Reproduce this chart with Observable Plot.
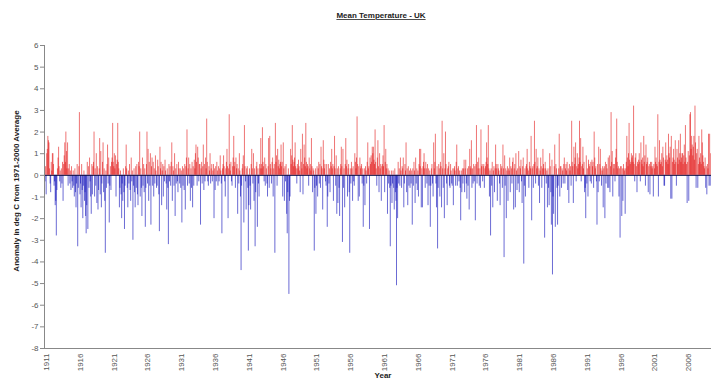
<!DOCTYPE html>
<html><head><meta charset="utf-8">
<script src="https://cdn.jsdelivr.net/npm/d3@7"></script>
<script src="https://cdn.jsdelivr.net/npm/@observablehq/plot@0.6"></script>
<style>body{margin:0;background:#fff;}</style>
</head><body><div id="chart"></div>
<script>
// Monthly anomalies (deg C from 1971-2000 average), starting January 1911
const startYear = 1911;
const anom1911 = [
 0.5,-0.3,0.4,-0.9,1.0,1.2,1.8,1.6,1.5,0.3,-0.4,-0.8,
 0.6,0.2,1.0,1.0,0.5,-0.5,-0.3,-1.4,-1.2,-2.8,-0.7,0.3,
 0.8,1.3,0.4,-0.3,0.2,-0.6,0.3,-0.4,0.6,-1.2,0.5,0.9,
 1.5,0.6,2.0,1.1,0.3,1.5,-0.5,0.3,0.5,-0.4,0.2,-0.7,
 0.4,-0.3,-0.6,0.2,-0.5,-1.0,0.3,-0.8,-1.5,-0.4,0.5,-3.3,
 -0.6,0.4,2.9,-0.9,-0.4,-1.5,0.5,-0.7,-2.0,-0.5,0.2,-1.2,
 -0.8,-1.9,-2.7,-1.4,0.6,-2.5,0.4,-0.6,0.8,-0.3,-1.0,-1.8,
 0.5,-0.9,0.4,0.6,2.0,-1.0,0.3,-0.5,1.0,-1.3,0.4,-1.6,
 -0.7,0.3,1.7,-0.9,1.1,-1.5,-0.4,0.6,1.5,-0.8,0.3,-1.2,
 -3.6,0.2,-0.6,0.5,1.4,-0.4,0.8,-2.2,-0.5,0.4,-0.7,0.6];
const anom1921 = [
 0.8,2.4,0.6,0.4,1.0,0.3,0.9,-1.0,0.5,0.7,2.4,0.6,
 0.3,-1.5,-0.6,0.2,-0.9,-2.0,-0.4,-1.2,0.3,-0.8,-2.5,-0.5,
 0.4,1.4,0.3,-0.6,-1.5,0.2,-0.4,0.5,-0.7,-1.2,0.8,-0.3,
 0.2,-3.0,-0.5,0.3,-0.8,-1.5,0.4,-0.6,0.5,-0.9,-1.4,0.6,
 0.4,2.0,-1.0,0.3,-0.6,-1.9,0.8,-0.5,0.5,-0.8,0.3,-2.4,
 -0.6,0.5,2.0,-0.4,1.2,-1.2,0.6,-0.5,1.0,-2.3,0.4,0.8,
 -0.5,0.6,-1.0,0.3,-0.4,0.9,0.2,-0.6,-0.5,0.7,0.4,-0.9,
 -2.6,1.3,0.3,0.6,-1.4,0.2,0.5,-1.0,0.4,-0.3,0.7,0.2,
 -0.4,-1.6,0.3,-0.6,-3.2,0.5,-0.3,0.4,-0.5,0.6,1.5,-1.2,
 0.4,0.2,-0.5,1.0,-1.9,0.3,-0.4,0.5,-0.3,-0.8,0.6,0.3];
const anom1931 = [
 -0.4,0.3,-0.6,0.2,-2.2,0.4,-0.5,0.3,-0.7,0.5,-1.6,0.4,
 0.8,2.1,-0.5,0.3,0.8,-0.4,0.5,-1.2,0.3,-0.6,0.6,-1.5,
 0.4,-0.5,0.7,0.3,1.0,1.4,0.6,-0.5,1.3,0.8,-0.3,0.5,
 0.5,-2.3,0.3,0.6,-0.4,0.4,1.4,-0.7,0.5,-0.3,0.8,0.3,
 2.6,0.6,-0.3,-0.5,0.4,0.2,1.0,-0.4,0.3,0.5,-0.3,0.2,
 0.5,-2.0,0.3,-0.7,0.4,-0.3,0.6,0.2,-0.5,0.4,-0.3,0.3,
 0.9,0.2,-0.4,-2.7,0.3,0.5,0.9,0.4,-0.3,-1.0,0.3,0.6,
 1.2,0.4,-2.0,0.3,2.8,0.5,0.2,0.6,-0.3,-0.5,0.4,0.8,
 1.8,0.4,0.6,-0.6,0.8,0.3,0.5,-1.8,0.3,-0.4,1.0,0.2,
 -1.0,-4.4,-0.5,0.3,0.5,0.9,-2.2,2.3,0.4,-0.3,-1.6,0.3];
const anom1941 = [
 0.4,-0.6,-3.5,-1.4,0.3,-0.5,-1.6,0.5,1.2,0.3,-0.4,1.0,
 -1.2,0.3,-3.3,-0.8,0.4,0.6,-2.4,0.3,-0.4,-1.0,0.5,0.3,
 1.7,0.5,0.3,2.2,0.6,0.4,-0.3,0.8,-0.5,0.5,0.3,-0.4,
 -1.0,0.4,1.7,-0.6,1.8,0.5,0.3,-0.4,0.6,0.8,-1.0,0.3,
 0.5,-3.6,2.4,0.6,0.9,-0.5,1.2,0.4,0.7,0.3,0.5,0.6,
 1.4,0.4,0.6,-1.0,1.5,0.3,-1.2,0.4,-0.3,0.5,-1.8,-2.7,
 -0.8,0.3,-5.5,-1.2,-1.0,1.2,0.5,0.9,2.3,0.7,0.4,0.6,
 0.8,1.5,0.4,0.3,-0.4,0.5,0.3,0.7,0.4,0.2,-0.8,1.2,
 0.6,0.3,1.9,-0.9,0.5,1.4,0.8,0.4,2.4,0.6,0.3,0.5,
 0.4,-0.5,0.8,0.3,0.5,0.2,1.7,0.4,-0.8,0.3,0.2,-3.5];
const anom1951 = [
 -0.6,0.3,-1.8,-0.5,0.4,-1.0,0.3,0.6,-0.4,0.5,-0.6,1.3,
 0.4,0.3,-1.6,1.6,0.7,0.3,0.5,-0.3,-0.5,0.5,-2.4,-1.0,
 0.5,-0.4,0.3,-0.8,0.6,0.4,1.2,0.3,0.5,-1.2,0.4,1.8,
 0.3,-0.5,0.9,-1.8,0.3,-1.3,0.4,-0.6,-1.9,0.3,0.5,1.3,
 0.4,-3.1,1.2,-0.6,0.3,-1.5,0.5,1.7,0.4,0.7,-1.0,0.3,
 0.5,-0.8,-3.6,0.3,-0.4,0.6,0.3,-1.2,0.4,-0.3,-0.5,1.0,
 0.6,0.3,0.8,2.7,0.5,-1.2,0.4,-1.0,0.8,0.3,0.4,0.5,
 -0.4,0.3,-2.4,-0.5,0.3,-1.4,0.4,0.2,-0.4,0.6,1.5,0.3,
 0.4,-2.5,0.8,0.5,0.9,0.6,1.3,1.0,1.3,0.7,0.5,2.1,
 0.6,0.3,-0.5,0.8,1.6,0.4,-0.8,1.0,0.3,0.5,-1.2,0.4];
const anom1961 = [
 0.5,0.9,0.4,2.3,-0.8,0.6,1.2,0.3,0.5,-1.8,0.3,-0.4,
 0.2,-0.6,-3.3,-0.5,0.2,-1.3,-0.4,0.2,-0.6,-1.6,0.3,-0.8,
 -1.2,-5.1,-0.6,-2.0,0.6,-0.4,0.3,-0.5,0.8,0.2,-0.6,0.4,
 0.3,0.8,-1.5,-0.4,0.5,0.2,1.5,-0.8,0.3,-1.4,0.4,-0.5,
 0.2,-0.6,0.3,-0.4,0.2,-2.3,0.3,-0.5,0.6,0.2,-1.3,0.8,
 -0.4,0.3,-0.7,0.2,-1.0,0.5,1.2,0.4,1.2,-1.5,0.3,-1.5,
 0.4,0.6,1.0,0.3,-0.6,0.6,0.3,-0.4,0.5,-1.4,0.3,-0.5,
 0.2,-2.4,-0.5,0.3,0.5,-0.4,-1.0,1.5,0.3,0.6,1.9,-0.4,
 -1.5,0.4,-3.4,-0.6,0.5,0.3,-1.0,0.6,0.4,-1.5,2.5,0.3,
 -0.6,1.0,-2.0,0.3,2.0,0.5,-0.4,-1.4,0.3,0.4,0.6,-0.5];
const anom1971 = [
 -0.6,0.5,0.2,-0.4,-0.5,0.3,-1.4,0.3,0.4,0.2,-0.5,0.6,
 1.4,-0.5,0.3,0.4,-0.3,0.2,-0.6,-2.1,0.2,-0.8,0.3,-0.4,
 0.3,0.7,-0.8,0.3,0.7,-0.4,-1.1,0.3,-0.5,0.4,-1.6,1.2,
 0.4,0.3,1.6,-0.6,0.3,-0.4,0.5,-0.3,0.4,-2.1,0.5,2.3,
 -0.4,0.6,0.3,0.8,-0.5,0.3,-0.6,2.1,0.4,0.5,-0.3,0.4,
 0.5,-0.6,0.3,0.4,0.6,1.5,0.8,0.5,2.3,0.3,-1.0,0.2,
 -2.8,0.3,-0.5,0.6,-1.5,0.2,0.4,-0.8,0.3,1.4,0.5,0.3,
 -1.2,0.5,0.3,0.2,-0.4,-1.4,0.5,0.3,0.4,-0.6,1.4,0.3,
 -3.8,0.9,-0.5,0.3,-2.0,0.2,0.4,-1.2,0.3,0.2,0.8,-0.8,
 0.4,0.3,-0.4,0.6,0.8,-1.6,0.3,0.5,-1.5,1.0,0.2,-0.7];
const anom1981 = [
 0.3,-0.4,1.1,-0.8,0.4,0.3,0.7,-0.3,-1.3,0.4,0.8,-4.1,
 -0.5,0.3,-1.0,0.4,0.5,1.2,0.3,0.2,-0.6,0.6,0.4,0.3,
 1.8,-2.1,0.3,0.4,-0.6,0.5,2.5,0.6,-0.4,1.2,0.3,0.4,
 0.8,-0.5,0.3,-1.3,0.2,0.8,0.4,-0.6,0.3,1.2,0.5,0.3,
 -2.9,0.6,0.3,-0.4,0.2,-1.5,0.3,-0.6,-1.4,1.0,0.4,-0.8,
 -2.3,0.7,-4.6,-1.0,-1.8,0.4,1.4,-2.4,0.5,0.3,-0.6,-2.3,
 -0.5,0.3,1.9,-1.0,0.4,0.4,-0.6,0.3,0.2,-0.4,0.5,0.8,
 -0.4,0.3,0.5,0.2,0.6,-0.7,0.3,-1.3,0.5,0.2,0.4,-0.5,
 2.5,0.6,0.4,-1.3,1.3,0.5,0.8,1.5,-0.3,0.4,1.0,0.3,
 0.5,0.8,2.5,0.6,1.7,-0.3,0.4,0.5,1.3,0.3,0.6,-0.8];
const anom1991 = [
 -0.6,-2.0,0.9,-0.4,0.3,-1.0,0.7,0.5,0.4,-0.3,0.6,-0.4,
 0.7,0.4,0.6,-0.6,2.0,0.8,0.3,0.4,-0.3,-2.3,0.5,-0.8,
 1.3,-0.3,0.5,1.2,0.3,-0.5,0.2,0.4,-1.5,0.3,0.4,-2.0,
 0.6,-0.4,0.5,0.3,-0.6,0.8,-0.6,0.9,-0.8,0.4,2.9,0.6,
 1.1,-1.0,0.5,0.3,0.5,-0.3,0.8,1.2,2.6,0.6,0.3,0.4,
 -1.0,0.3,-2.9,0.4,0.4,-1.9,0.3,-1.2,0.5,0.3,0.2,-1.8,
 0.3,0.6,1.8,0.8,0.4,1.0,2.4,0.7,0.5,0.6,1.0,0.8,
 0.9,0.6,3.2,0.5,-0.3,0.8,1.0,0.4,-0.8,0.6,0.5,0.7,
 1.0,0.6,-0.3,1.5,0.7,0.5,0.8,0.4,1.8,0.6,0.9,-0.5,
 1.4,0.5,0.6,0.8,-0.8,0.4,0.5,-0.9,0.6,0.4,0.6,0.3];
const anom2001 = [
 0.4,-1.0,0.5,0.3,1.3,0.6,0.8,0.5,0.4,2.8,-1.0,0.6,
 1.6,0.7,0.5,0.6,1.0,0.4,1.3,0.8,-0.5,-0.5,0.7,1.5,
 0.6,0.9,0.7,0.5,1.9,1.0,0.8,1.3,-1.1,1.8,-1.1,0.6,
 0.8,1.2,0.7,0.5,1.6,0.6,-0.5,1.2,0.8,0.5,1.6,0.7,
 1.0,1.9,0.6,0.8,1.0,1.0,0.5,0.9,1.4,0.6,2.3,0.8,
 0.5,-1.3,0.6,1.1,-1.2,0.9,2.8,2.9,1.2,1.8,1.4,0.9,
 1.3,1.8,0.7,3.2,1.5,-0.6,1.0,1.2,-0.6,0.5,1.8,0.8,
 0.6,1.0,0.5,2.1,1.5,0.9,0.6,0.4,0.3,0.8,-0.6,0.4,
 -0.9,0.5,0.3,1.9,-0.5,1.9,-0.5,1.0];
const tickYears = [1911,1916,1921,1926,1931,1936,1941,1946,1951,1956,1961,1966,1971,1976,1981,1986,1991,1996,2001,2006];
const yTicks = [-8,-7,-6,-5,-4,-3,-2,-1,0,1,2,3,4,5,6];

const anomalies = [].concat(anom1911, anom1921, anom1931, anom1941, anom1951,
  anom1961, anom1971, anom1981, anom1991, anom2001);
const data = anomalies.map((v, i) => ({date: new Date(Date.UTC(startYear, i, 1)), value: v}));
const pos = data.filter(d => d.value >= 0);
const neg = data.filter(d => d.value < 0);
const x0 = new Date(Date.UTC(startYear, 0, 1));

const chart = Plot.plot({
  width: 711, height: 383,
  marginLeft: 44, marginRight: 0, marginTop: 45, marginBottom: 35,
  style: {fontFamily: "'Liberation Sans', Arial, sans-serif", fontSize: "8px", background: "#fff", color: "#555"},
  x: {type: "utc", domain: [x0, new Date(Date.UTC(2009, 8, 10))]},
  y: {domain: [-8, 6]},
  marks: [
    Plot.ruleX(pos, {x: "date", y1: 0, y2: "value", stroke: "#e00000", strokeOpacity: 0.55}),
    Plot.ruleX(neg, {x: "date", y1: 0, y2: "value", stroke: "#0808b8", strokeOpacity: 0.6}),
    Plot.ruleY([0], {stroke: "#101040", strokeWidth: 1}),
    Plot.ruleY([-8], {stroke: "#888"}),
    Plot.ruleX([x0], {stroke: "#888"}),
    Plot.axisY({ticks: yTicks, tickFormat: d => String(d), tickSize: 4, tickPadding: 2, label: null, stroke: "#888", fill: "#555"}),
    Plot.axisX({ticks: tickYears.map(y => new Date(Date.UTC(y, 0, 1))), tickFormat: d => String(d.getUTCFullYear()),
      tickRotate: -90, tickSize: 0, tickPadding: 5, dx: 2, label: null, fill: "#555"}),
    Plot.text(["Mean Temperature - UK"], {frameAnchor: "top", dy: -33, dx: 3, fontWeight: "bold", fontSize: 8, fill: "#222"}),
    Plot.text(["Anomaly in deg C from 1971-2000 Average"], {frameAnchor: "left", textAnchor: "middle", dx: -28, dy: -6, rotate: -90, fontWeight: "bold", fontSize: 8, fill: "#222"}),
    Plot.text(["Year"], {frameAnchor: "bottom", dy: 29, dx: 5, fontWeight: "bold", fontSize: 8, fill: "#222"})
  ]
});
d3.select(chart).selectAll("text").filter(function() { return this.textContent === "Mean Temperature - UK"; })
  .style("text-decoration", "underline");
document.getElementById("chart").appendChild(chart);
</script>
</body></html>
